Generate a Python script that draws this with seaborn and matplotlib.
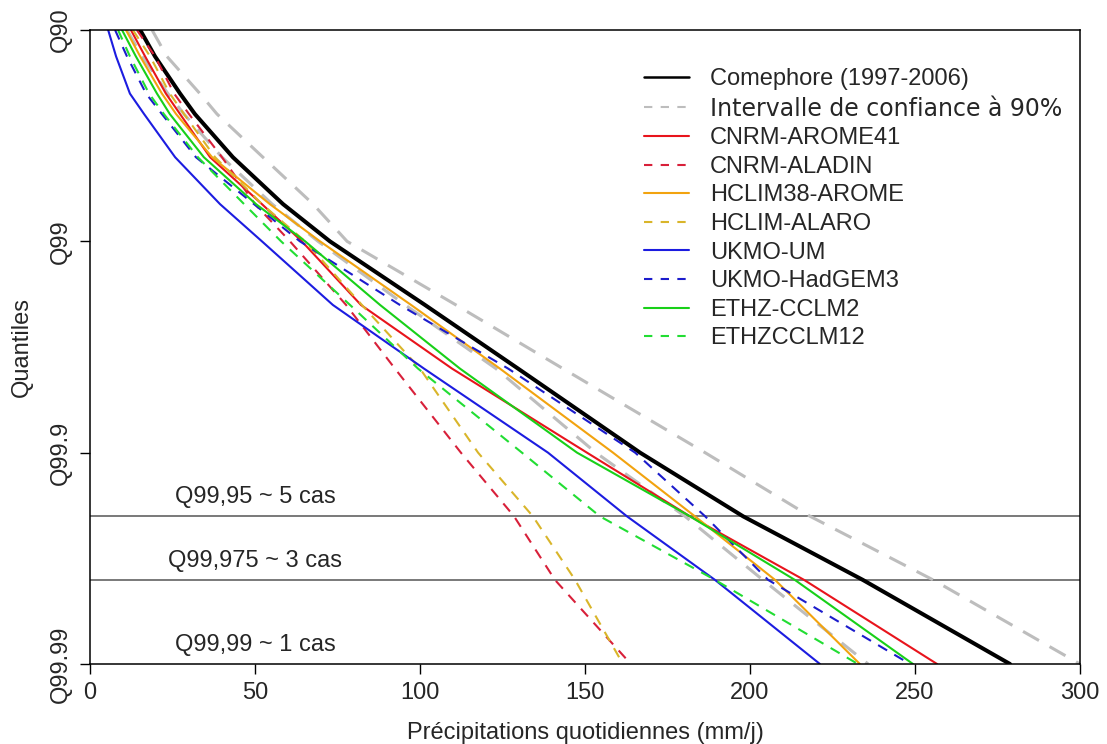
import pandas as pd
import seaborn as sns
import matplotlib
matplotlib.use("Agg")
import matplotlib.pyplot as plt

# quantiles (%) shared by every curve
quantiles = [90, 92.5, 95, 96, 97.5, 98.5, 99, 99.5, 99.75, 99.9, 99.95, 99.975, 99.99]

# daily precipitation (mm/j) at each quantile
comephore = [15.2, 19.7, 27.3, 31.8, 43.3, 58.5, 72.7, 101.5, 129.7, 166.7, 197.9, 234.2, 278.8]
ic_haut = [18.8, 23.3, 33.3, 38.5, 52.4, 67.6, 77.9, 110.9, 143.3, 186.4, 218.2, 255.5, 300.0]
ic_bas = [11.2, 15.8, 23.6, 28.5, 40.0, 55.2, 69.1, 95.5, 123.0, 153.3, 180.3, 203.9, 235.8]
cnrm_arome41 = [12.4, 16.7, 23.0, 27.3, 36.4, 52.1, 64.2, 82.1, 109.7, 150.6, 181.8, 216.4, 256.7]
cnrm_aladin = [14.2, 19.7, 25.5, 30.0, 40.0, 50.0, 60.6, 77.6, 92.4, 112.4, 128.5, 140.9, 163.9]
hclim38_arome = [10.9, 15.2, 21.8, 26.1, 37.0, 54.5, 69.7, 97.3, 124.2, 158.5, 183.3, 207.6, 233.3]
hclim_alaro = [13.0, 18.2, 24.2, 28.5, 37.9, 52.1, 65.2, 82.4, 100.0, 117.6, 134.2, 147.0, 161.5]
ukmo_um = [5.5, 7.9, 12.1, 16.4, 25.8, 39.4, 52.1, 73.6, 101.2, 138.8, 162.7, 189.4, 221.2]
ukmo_hadgem3 = [7.6, 11.2, 17.0, 21.8, 32.1, 49.7, 63.6, 93.9, 126.7, 165.2, 186.4, 205.5, 248.5]
ethz_cclm2 = [9.7, 13.9, 20.3, 24.2, 34.5, 50.3, 65.2, 87.9, 112.1, 147.6, 181.8, 213.6, 249.4]
ethz_cclm12 = [8.5, 12.1, 17.9, 22.4, 32.7, 46.7, 57.9, 78.8, 99.4, 130.9, 154.5, 189.4, 232.7]

# reference lines: quantile, label
seuils = [99.95, 99.975, 99.99]
seuils_txt = ["Q99,95 ~ 5 cas", "Q99,975 ~ 3 cas", "Q99,99 ~ 1 cas"]

ytick_q = [90, 99, 99.9, 99.99]
ytick_txt = ["Q90", "Q99", "Q99.9", "Q99.99"]

# name, values, colour, dashed, width
series = [
    ("Comephore (1997-2006)", comephore, "black", False, 2.9),
    ("IC haut", ic_haut, "#bdbdbd", True, 2.2),
    ("IC bas", ic_bas, "#bdbdbd", True, 2.2),
    ("CNRM-AROME41", cnrm_arome41, "#e8141c", False, 1.5),
    ("CNRM-ALADIN", cnrm_aladin, "#d8203a", True, 1.5),
    ("HCLIM38-AROME", hclim38_arome, "#f2a30f", False, 1.5),
    ("HCLIM-ALARO", hclim_alaro, "#d9b52a", True, 1.5),
    ("UKMO-UM", ukmo_um, "#1c1ce0", False, 1.5),
    ("UKMO-HadGEM3", ukmo_hadgem3, "#1c1ccc", True, 1.5),
    ("ETHZ-CCLM2", ethz_cclm2, "#18d018", False, 1.5),
    ("ETHZCCLM12", ethz_cclm12, "#22dd33", True, 1.5),
]

rows = []
for nom, vals, _, _, _ in series:
    for q, v in zip(quantiles, vals):
        rows.append({"modele": nom, "precip": v, "depassement": round(100 - q, 4)})
df = pd.DataFrame(rows)

sns.set_theme(style="white")
plt.rcParams["font.family"] = ["Liberation Sans", "DejaVu Sans"]

fig = plt.figure(figsize=(11.07, 7.44), dpi=100)
ax = fig.add_axes([0.0813, 0.1075, 0.8943, 0.8522])

for nom, vals, couleur, tirets, lw in series:
    sub = df[df["modele"] == nom]
    sns.lineplot(data=sub, x="precip", y="depassement", color=couleur, lw=lw,
                 sort=False, estimator=None, ax=ax, legend=False)
    line = ax.lines[-1]
    if tirets:
        line.set_dashes((6, 4) if nom.startswith("IC") else (5, 4))

ax.set_yscale("log")
ax.set_xlim(0, 300)
ax.set_ylim(0.01, 10)

for q, txt in zip(seuils, seuils_txt):
    exc = round(100 - q, 4)
    if q != 99.99:
        ax.axhline(exc, color="#555555", lw=1.1, zorder=0)
    ax.text(50, exc * 1.09, txt, ha="center", va="bottom", fontsize=17)

ax.set_yticks([round(100 - q, 4) for q in ytick_q])
ax.set_yticklabels(ytick_txt, rotation=90, va="center")
ax.minorticks_off()
ax.set_xticks([0, 50, 100, 150, 200, 250, 300])
ax.tick_params(axis="both", which="major", direction="out", length=7, width=1,
               color="black", labelsize=17, left=True, bottom=True, pad=6)
for s in ax.spines.values():
    s.set_color("black")
    s.set_linewidth(1.1)

ax.set_xlabel("Précipitations quotidiennes (mm/j)", fontsize=17, labelpad=13)
ax.set_ylabel("Quantiles", fontsize=17, labelpad=12)

# legend: one grey entry for the confidence interval
handles = []
labels = []
for nom, vals, couleur, tirets, lw in series:
    if nom == "IC bas":
        continue
    if nom == "IC haut":
        nom = "Intervalle de confiance à 90%"
    h = plt.Line2D([], [], color=couleur, lw=1.5 if nom != "Comephore (1997-2006)" else 1.8)
    if tirets:
        h.set_dashes((4, 4))
    handles.append(h)
    labels.append(nom)
leg = ax.legend(handles, labels, loc="upper left", bbox_to_anchor=(0.55, 0.955),
                frameon=False, fontsize=17, handlelength=1.9, handletextpad=0.9,
                labelspacing=0.28, borderaxespad=0)
for t in leg.get_texts():
    if t.get_text().startswith("Intervalle"):
        t.set_family("DejaVu Sans")

fig.savefig("out.png", dpi=100, facecolor="white")
